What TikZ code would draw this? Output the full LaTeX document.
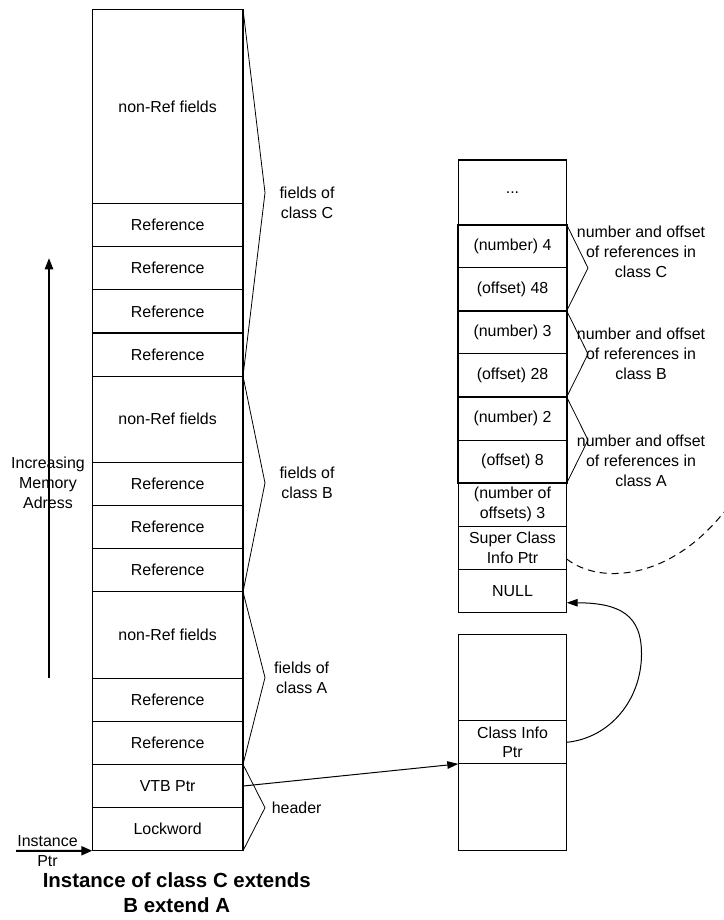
\documentclass[tikz,border=0pt]{standalone}
\usepackage{fontspec}
\setmainfont{Liberation Sans}
\usetikzlibrary{arrows.meta}
\begin{document}
\begin{tikzpicture}[x=1bp,y=-1bp,
  cell/.style={draw, line width=1.1bp, inner sep=0pt, outer sep=0pt, align=center, font=\fontsize{16}{20}\selectfont},
  lcell/.style={cell, minimum width=150.7bp, minimum height=43.15bp},
  rcell/.style={cell, minimum width=108.4bp, minimum height=43.1bp},
  lbl/.style={align=center, inner sep=0pt, font=\fontsize{16}{20}\selectfont},
  brace/.style={line width=0.8bp},
  arr/.style={line width=1.1bp, -{Triangle[length=11bp,width=7.5bp]}},
  grp/.style={line width=2.2bp},
  dashcurve/.style={line width=1bp, dash pattern=on 7bp off 5bp}
]
\useasboundingbox (0,0) rectangle (724,920);

% ---- left column (instance) ----
\node[lcell, minimum height=194.2bp, anchor=north] (cnr) at (167.65,9.3) {non-Ref fields};
\node[lcell, anchor=north] (cr1) at (cnr.south) {Reference};
\node[lcell, anchor=north] (cr2) at (cr1.south) {Reference};
\node[lcell, anchor=north] (cr3) at (cr2.south) {Reference};
\node[lcell, anchor=north] (cr4) at (cr3.south) {Reference};
\node[lcell, minimum height=86.3bp, anchor=north] (bnr) at (cr4.south) {non-Ref fields};
\node[lcell, anchor=north] (br1) at (bnr.south) {Reference};
\node[lcell, anchor=north] (br2) at (br1.south) {Reference};
\node[lcell, anchor=north] (br3) at (br2.south) {Reference};
\node[lcell, minimum height=86.3bp, anchor=north] (anr) at (br3.south) {non-Ref fields};
\node[lcell, anchor=north] (ar1) at (anr.south) {Reference};
\node[lcell, anchor=north] (ar2) at (ar1.south) {Reference};
\node[lcell, anchor=north] (vtb) at (ar2.south) {VTB Ptr};
\node[lcell, anchor=north] (lock) at (vtb.south) {Lockword};

% braces left
\coordinate (tipC) at (265,192.7);
\coordinate (tipB) at (265,483);
\coordinate (tipA) at (265,677.5);
\coordinate (tipH) at (265,807.7);
\draw[brace] (cnr.north east) -- (tipC) -- (cr4.south east);
\draw[brace] (cr4.south east) -- (tipB) -- (br3.south east);
\draw[brace] (br3.south east) -- (tipA) -- (ar2.south east);
\draw[brace] (ar2.south east) -- (tipH) -- (lock.south east);

\node[lbl] (tC) at (307,203) {fields of\\class C};
\node[lbl] (tB) at (307,483) {fields of\\class B};
\node[lbl] (tA) at (301.7,677.5) {fields of\\class A};
\node[lbl] (tH) at (296.7,807.7) {header};

% memory arrow
\coordinate (mb) at (49,678);
\coordinate (mt) at (49,258.3);
\draw[arr, line width=1.2bp, -{Triangle[length=11bp,width=8.5bp]}] (mb) -- (mt);
\node[lbl] (mem) at (48,483) {Increasing\\Memory\\Adress};

% instance ptr
\coordinate (ip) at (16,850.75);
\draw[line width=2bp, -{Triangle[length=11bp,width=9bp]}] (ip) -- (lock.south west);
\node[lbl] (inst) at (47.5,850.7) {Instance\\Ptr};

\node[align=center, inner sep=0pt, font=\fontsize{20.5}{25}\selectfont\bfseries] (title) at (176.7,892.5) {Instance of class C extends\\B extend A};

% ---- right column (class info) ----
\node[rcell, minimum height=64.6bp, anchor=north] (dots) at (512.5,160) {...};
\node[rcell, anchor=north] (n4) at (dots.south) {(number) 4};
\node[rcell, anchor=north] (o48) at (n4.south) {(offset) 48};
\node[rcell, anchor=north] (n3) at (o48.south) {(number) 3};
\node[rcell, anchor=north] (o28) at (n3.south) {(offset) 28};
\node[rcell, anchor=north] (n2) at (o28.south) {(number) 2};
\node[rcell, anchor=north] (o8) at (n2.south) {(offset) 8};
\node[rcell, anchor=north] (noff) at (o8.south) {(number of\\offsets) 3};
\node[rcell, anchor=north] (super) at (noff.south) {Super Class\\Info Ptr};
\node[rcell, anchor=north] (null) at (super.south) {NULL};

\draw[grp] (n4.north west) rectangle (o48.south east);
\draw[grp] (n3.north west) rectangle (o28.south east);
\draw[grp] (n2.north west) rectangle (o8.south east);

\coordinate (rtipC) at (588,268);
\coordinate (rtipB) at (588,354);
\coordinate (rtipA) at (588,440);
\draw[brace] (n4.north east) -- (rtipC) -- (o48.south east);
\draw[brace] (n3.north east) -- (rtipB) -- (o28.south east);
\draw[brace] (n2.north east) -- (rtipA) -- (o8.south east);

\node[lbl] (rC) at (641,251.7) {number and offset\\of references in\\class C};
\node[lbl] (rB) at (641,354) {number and offset\\of references in\\class B};
\node[lbl] (rA) at (641,461) {number and offset\\of references in\\class A};

% lower class box
\node[rcell, minimum height=86.4bp, anchor=north] (ctop) at (512.5,634.3) {};
\node[rcell, minimum height=43.2bp, anchor=north] (ci) at (ctop.south) {Class Info\\Ptr};
\node[rcell, minimum height=86.4bp, anchor=north] (cbot) at (ci.south) {};

% connectors
\draw[arr, line width=1bp] (vtb.east) -- (ci.south west);
\coordinate (nulltip) at (566.7,602.7);
\draw[arr, line width=1bp] (ci.east) .. controls (610,738) and (641,700) .. (641.5,655)
   .. controls (642,615) and (620,603) .. (nulltip);
\coordinate (ds) at (566.7,559);
\coordinate (de) at (724,512);
\draw[dashcurve] (ds) .. controls (600,585) and (670,580) .. (de);
\end{tikzpicture}
\end{document}
